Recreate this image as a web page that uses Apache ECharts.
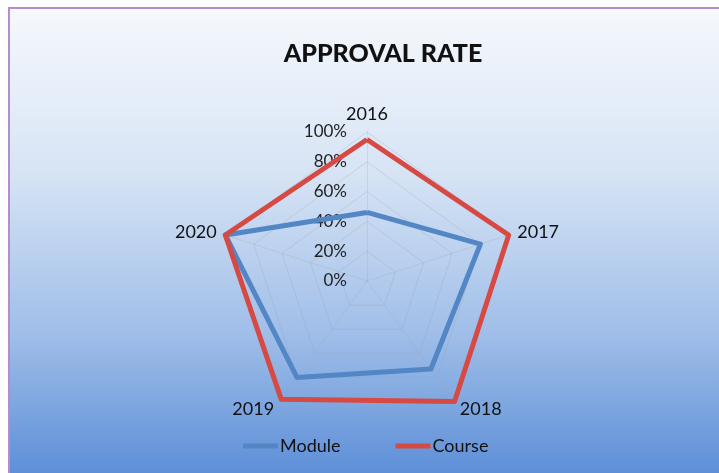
<!DOCTYPE html>
<html>
<head>
<meta charset="utf-8">
<script src="https://cdn.jsdelivr.net/npm/echarts@6/dist/echarts.min.js"></script>
<style>
	html, body { margin: 0; padding: 0; background: #ffffff; }
	#chart { width: 719px; height: 473px; }
</style>
</head>
<body>
<div id="chart"></div>
<script>
	var years = ['2016', '2017', '2018', '2019', '2020'];
	var moduleRate = [0.46, 0.80, 0.73, 0.80, 1.00];
	var courseRate = [0.95, 1.00, 1.00, 0.98, 1.00];
	var seriesNames = ['Module', 'Course'];

	var chart = echarts.init(document.getElementById('chart'));

	// radar runs counter-clockwise, so walk the years backwards after the first
	var order = [0];
	for(var k = years.length - 1; k > 0; k--) {
		order.push(k);
	}

	var indicators = [], moduleVals = [], courseVals = [];
	for(var i = 0; i < order.length; i++) {
		var idx = order[i];
		var ind = { name: years[idx], min: 0, max: 1 };
		if(i == 0) {
			// only the top axis carries the % labels
			ind.axisLabel = { show: true };
		}
		indicators.push(ind);
		moduleVals.push(moduleRate[idx]);
		courseVals.push(courseRate[idx]);
	}

	var option = {
		backgroundColor: '#ffffff',
		graphic: [{
			type: 'rect',
			z: -10,
			silent: true,
			shape: { x: 9, y: 8, width: 720, height: 470 },
			style: {
				fill: new echarts.graphic.LinearGradient(0, 0, 0, 1, [
					{ offset: 0, color: '#f6f9fd' },
					{ offset: 0.35, color: '#d7e4f5' },
					{ offset: 0.7, color: '#9ebde8' },
					{ offset: 1, color: '#5b8dd7' }
				]),
				stroke: '#b48ccf',
				lineWidth: 2
			}
		}],
		title: {
			text: 'APPROVAL RATE',
			left: 378,
			top: 36,
			textAlign: 'center',
			textStyle: {
				fontFamily: 'Lato',
				fontWeight: 900,
				fontSize: 25,
				color: '#111111'
			}
		},
		legend: {
			data: seriesNames,
			left: 238,
			top: 432,
			itemWidth: 35,
			itemHeight: 5,
			itemGap: 55,
			icon: 'rect',
			textStyle: {
				fontFamily: 'Lato',
				fontSize: 18,
				color: '#111111',
				padding: [0, 0, 0, -3]
			}
		},
		radar: {
			center: [367, 281],
			radius: 149,
			shape: 'polygon',
			splitNumber: 5,
			startAngle: 90,
			nameGap: 9,
			axisName: {
				fontFamily: 'Lato',
				fontSize: 18,
				color: '#111111'
			},
			axisLabel: {
				show: false,
				margin: 20,
				fontFamily: 'Lato',
				fontSize: 17,
				color: '#222222',
				formatter: function(v) {
					return Math.round(v * 100) + '%';
				}
			},
			axisLine: {
				lineStyle: { color: 'rgba(160,160,170,0.25)', width: 1 }
			},
			splitLine: {
				lineStyle: { color: 'rgba(160,160,170,0.3)', width: 1 }
			},
			splitArea: { show: false },
			indicator: indicators
		},
		series: [{
			type: 'radar',
			symbol: 'none',
			data: [{
				name: 'Module',
				value: moduleVals,
				itemStyle: { color: '#5286c4' },
				lineStyle: { color: '#5286c4', width: 5 }
			}, {
				name: 'Course',
				value: courseVals,
				itemStyle: { color: '#d64a43' },
				lineStyle: { color: '#d64a43', width: 5 }
			}]
		}]
	};

	chart.setOption(option);
</script>
</body>
</html>
